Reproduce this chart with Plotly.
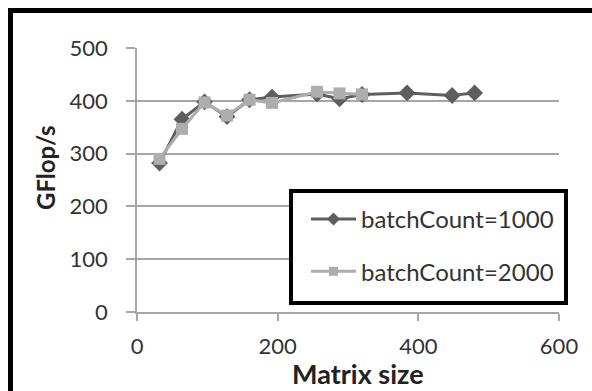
import plotly.graph_objects as go

# Data
sizes_1000 = [32, 64, 96, 128, 160, 192, 256, 288, 320, 384, 448, 480]
gflops_1000 = [282, 365, 398, 370, 402, 407, 413, 404, 412, 415, 410, 415]
sizes_2000 = [32, 64, 96, 128, 160, 192, 256, 288, 320]
gflops_2000 = [290, 347, 397, 372, 402, 396, 417, 414, 412]
names = ["batchCount=1000", "batchCount=2000"]
y_ticks = [0, 100, 200, 300, 400, 500]
x_ticks = [0, 200, 400, 600]

FONT = "Lato"
PL, PR, PT, PB = 137, 559, 48, 312   # plot area in pixels
W, H = 592, 391
C1, C2 = "#5e5e5e", "#adadad"


def px(x):
    return (x - PL) / (PR - PL)


def py(y):
    return (PB - y) / (PB - PT)


fig = go.Figure()
fig.add_trace(go.Scatter(
    x=sizes_1000, y=gflops_1000, name=names[0], mode="lines+markers",
    line=dict(color=C1, width=3),
    marker=dict(symbol="diamond", size=13, color=C1),
    showlegend=False,
))
fig.add_trace(go.Scatter(
    x=sizes_2000, y=gflops_2000, name=names[1], mode="lines+markers",
    line=dict(color=C2, width=3),
    marker=dict(symbol="square", size=12, color=C2),
    showlegend=False,
))
# legend entries (smaller markers, as in the original legend)
fig.add_trace(go.Scatter(
    x=[None], y=[None], name=names[0], mode="lines+markers",
    line=dict(color=C1, width=3),
    marker=dict(symbol="diamond", size=10, color=C1),
    legendgroup="a",
))
fig.add_trace(go.Scatter(
    x=[None], y=[None], name=names[1], mode="lines+markers",
    line=dict(color=C2, width=3),
    marker=dict(symbol="square", size=9, color=C2),
    legendgroup="b",
))

fig.update_layout(
    width=W, height=H,
    margin=dict(l=PL, r=W - PR, t=PT, b=H - PB),
    paper_bgcolor="white", plot_bgcolor="white",
    font=dict(family=FONT, color="#333333"),
    showlegend=True,
    legend=dict(
        x=px(306), y=py(197), xanchor="left", yanchor="top",
        borderwidth=0, bgcolor="rgba(0,0,0,0)",
        font=dict(size=24, family=FONT, color="#333333"),
        tracegroupgap=18, traceorder="grouped",
        itemwidth=45,
    ),
    xaxis=dict(
        range=[0, 600], tickvals=x_ticks, showgrid=False,
        showline=True, linecolor="#a6a6a6", linewidth=1.5,
        ticks="outside", ticklen=7, tickcolor="#a6a6a6", tickwidth=1.5,
        tickfont=dict(size=22, family=FONT, color="#333333"),
        zeroline=False, ticklabelstandoff=7,
    ),
    yaxis=dict(
        range=[0, 500], tickvals=y_ticks, showgrid=True,
        gridcolor="#a6a6a6", gridwidth=1.5,
        showline=True, linecolor="#a6a6a6", linewidth=1.5,
        ticks="outside", ticklen=9, tickcolor="#a6a6a6", tickwidth=1.5,
        tickfont=dict(size=22, family=FONT, color="#333333"),
        zeroline=False, ticklabelstandoff=14,
    ),
    annotations=[
        dict(text="<b>GFlop/s</b>", xref="paper", yref="paper",
             x=px(45), y=py(168),
             textangle=-90, showarrow=False,
             font=dict(size=24, family=FONT, color="#222222"),
             xanchor="center", yanchor="middle"),
        dict(text="<b>Matrix size</b>", xref="paper", yref="paper",
             x=px(358), y=py(373),
             showarrow=False,
             font=dict(size=27, family=FONT, color="#222222"),
             xanchor="center", yanchor="middle"),
    ],
    shapes=[
        # legend box
        dict(type="rect", xref="paper", yref="paper",
             x0=px(291), x1=px(566), y0=py(303), y1=py(191),
             line=dict(color="black", width=4), fillcolor="white",
             layer="above"),
        # outer chart border (top and left edges visible)
        dict(type="line", xref="paper", yref="paper",
             x0=px(8), x1=px(W + 20), y0=py(10.5), y1=py(10.5),
             line=dict(color="black", width=5), layer="above"),
        dict(type="line", xref="paper", yref="paper",
             x0=px(10.5), x1=px(10.5), y0=py(8), y1=py(H + 20),
             line=dict(color="black", width=5), layer="above"),
    ],
)

fig.write_html(
    "out.html",
    config={"displayModeBar": False},
    post_script="document.body.style.margin='0';document.body.style.overflow='hidden';",
)
